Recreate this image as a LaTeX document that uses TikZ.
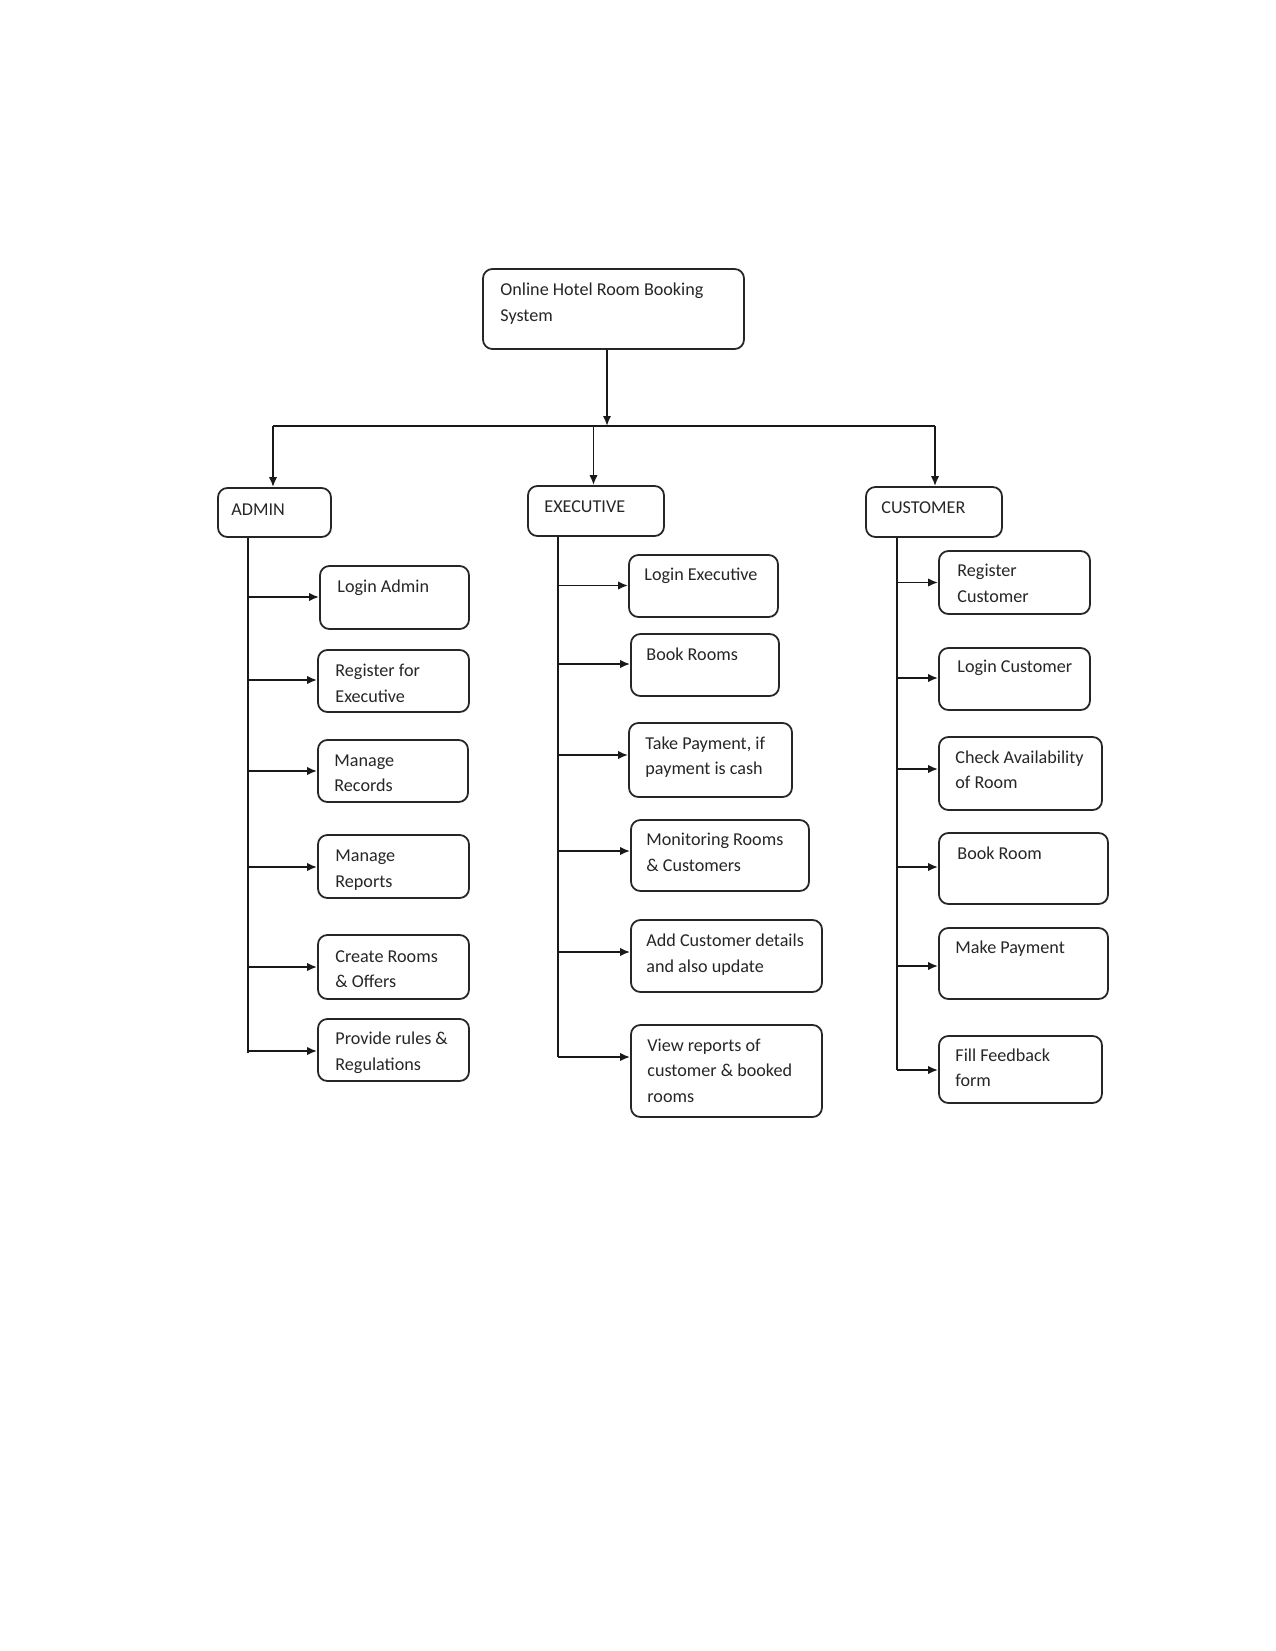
\documentclass[tikz,border=0pt]{standalone}
\usepackage{fontspec}
\setmainfont{Carlito}
\usetikzlibrary{fit,arrows.meta}
\tikzset{
  bx/.style={draw=black!85, line width=0.85pt, rounded corners=4.5pt, inner sep=0pt},
  txt/.style={anchor=base west, inner sep=0pt, text=black!85, font=\fontsize{8.7}{12.3}\selectfont},
  ln/.style={draw=black!90, line width=0.9pt},
  arr/.style={ln, -{Latex[length=4.8pt,width=4pt]}}
}
\newcommand\hbx[8]{%
  \node[bx, fit={(#2,#3)(#4,#5)}] (#1) {};
  \node[txt] (#1t) at (#6,#7) {\begin{tabular}[t]{@{}l@{}}#8\end{tabular}};}
\begin{document}
\begin{tikzpicture}[x=0.48pt,y=-0.48pt]
\useasboundingbox (0,0) rectangle (1275,1651);
\fill[white] (0,0) rectangle (1275,1651);
% top
\node[bx, fit={(483,269)(744,349)}] (top) {};
\node[txt, font=\fontsize{8.7}{12.5}\selectfont] (topt) at (500,295) {\begin{tabular}[t]{@{}l@{}}Online Hotel Room Booking\\System\end{tabular}};
% level 1
\hbx{admin}{218}{488}{331}{537}{231}{515}{ADMIN}
\hbx{exec}{528}{486}{664}{536}{544}{512}{EXECUTIVE}
\hbx{cust}{866}{487}{1002}{537}{881}{513}{CUSTOMER}
% admin children
\hbx{a1}{320}{566}{469}{629}{337}{592.5}{Login Admin}
\hbx{a2}{318}{650}{469}{712}{335}{676.5}{Register for\\Executive}
\hbx{a3}{318}{740}{468}{802}{334}{766}{Manage\\Records}
\hbx{a4}{318}{835}{469}{898}{335}{861.5}{Manage\\Reports}
\hbx{a5}{318}{935}{469}{999}{335}{962}{Create Rooms\\\& Offers}
\hbx{a6}{318}{1019}{469}{1081}{335}{1044.5}{Provide rules \&\\Regulations}
% executive children
\hbx{e1}{629}{555}{778}{617}{644}{580.5}{Login Executive}
\hbx{e2}{631}{634}{779}{696}{646}{660}{Book Rooms}
\hbx{e3}{629}{723}{792}{797}{645}{749}{Take Payment, if\\payment is cash}
\hbx{e4}{631}{820}{809}{891}{646}{845.5}{Monitoring Rooms\\\& Customers}
\hbx{e5}{631}{920}{822}{992}{646}{946.5}{Add Customer details\\and also update}
\hbx{e6}{631}{1025}{822}{1117}{647}{1051}{View reports of\\customer \& booked\\rooms}
% customer children
\hbx{c1}{939}{551}{1090}{614}{957}{576.5}{Register\\Customer}
\hbx{c2}{939}{648}{1090}{710}{957}{672.5}{Login Customer}
\hbx{c3}{939}{737}{1102}{810}{955}{763}{Check Availability\\of Room}
\hbx{c4}{939}{833}{1108}{904}{957}{859}{Book Room}
\hbx{c5}{939}{928}{1108}{999}{955}{953.5}{Make Payment}
\hbx{c6}{939}{1036}{1102}{1103}{955}{1061}{Fill Feedback\\form}
% top connectors
\coordinate (j) at (607,426);
\coordinate (hl) at (273,426);
\coordinate (hm) at (593.5,426);
\coordinate (hr) at (935,426);
\draw[arr] (j |- top.south) -- (j);
\draw[ln] (hl) -- (hr);
\draw[arr] (hl) -- (hl |- admin.north);
\draw[arr] (hm) -- (hm |- exec.north);
\draw[arr] (hr) -- (hr |- cust.north);
% admin trunk
\coordinate (at) at (248,1053);
\draw[ln] (at |- admin.south) -- (at);
\foreach \n/\y in {a1/597,a2/680,a3/771,a4/867,a5/967,a6/1051}{
  \coordinate (tmp) at (248,\y);
  \draw[arr] (tmp) -- (tmp -| \n.west);}
% executive trunk
\coordinate (et) at (558,1057);
\draw[ln] (et |- exec.south) -- (et);
\foreach \n/\y in {e1/585.5,e2/664,e3/755,e4/851,e5/952,e6/1057}{
  \coordinate (tmp) at (558,\y);
  \draw[arr] (tmp) -- (tmp -| \n.west);}
% customer trunk
\coordinate (ct) at (897,1070);
\draw[ln] (ct |- cust.south) -- (ct);
\foreach \n/\y in {c1/582.5,c2/678,c3/769,c4/867,c5/966,c6/1070}{
  \coordinate (tmp) at (897,\y);
  \draw[arr] (tmp) -- (tmp -| \n.west);}
\end{tikzpicture}
\end{document}
